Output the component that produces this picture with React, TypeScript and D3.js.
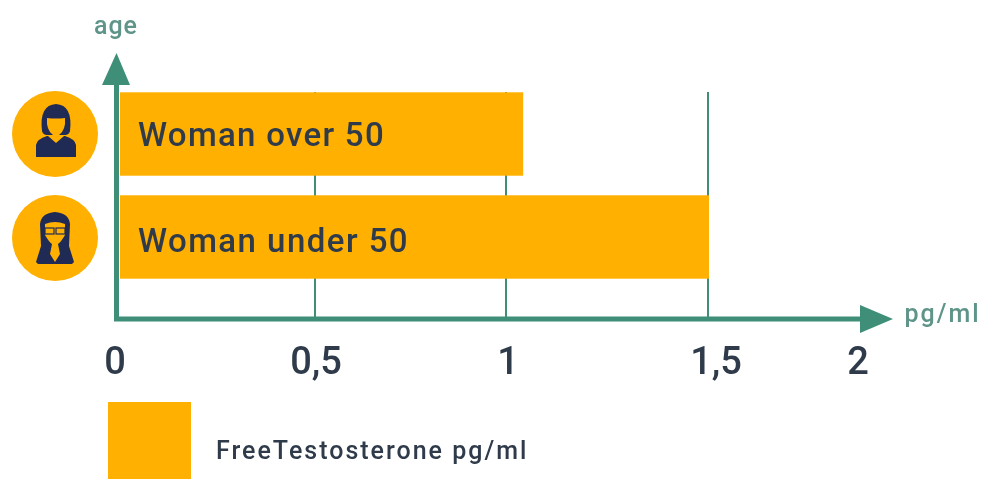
import React from "react";
import * as d3 from "d3";

const categories = ["Woman over 50", "Woman under 50"];
const values = [1.04, 1.5];
const tickValues = [0, 0.5, 1, 1.5, 2];
const tickLabels = ["0", "0,5", "1", "1,5", "2"];
const gridValues = [0.5, 1, 1.5];
const legendLabel = "FreeTestosterone pg/ml";

const GREEN = "#3f8f78";
const ORANGE = "#ffb000";
const NAVY = "#1f2a55";
const TEXT = "#2f3b4a";
const FONT = "Roboto, 'Noto Sans', sans-serif";

// the reference's ticks are not quite evenly spaced
const x = d3.scaleLinear().domain(tickValues).range([116, 315, 506, 708, 858]);
const y = d3.scaleBand().domain(categories).range([82, 289]).paddingInner(0.19).paddingOuter(0.1);
const labelX = d3.scaleLinear().domain(tickValues).range([115, 316, 508, 716, 858]);

function OlderIcon({ cx, cy }: { cx: number; cy: number }) {
  return (
    <g transform={`translate(${cx},${cy})`}>
      <path fill={NAVY} d="M-20,27 L-20,15 Q-19,9 -9,6 L9,6 Q19,9 20,15 L20,27 Z" />
      <path fill={ORANGE} d="M-8,6 L8,6 L0,13 Z" />
      <path fill={NAVY} d="M-14,1 Q-17,-25 0,-26 Q17,-25 14,1 Q13,5 9,5 L-9,5 Q-13,5 -14,1 Z" />
      <path fill={ORANGE} d="M-9,-12 Q0,-11 9,-12 Q10,0 3,5 L0,6 L-3,5 Q-10,0 -9,-12 Z" />
    </g>
  );
}

function YoungerIcon({ cx, cy }: { cx: number; cy: number }) {
  return (
    <g transform={`translate(${cx},${cy})`}>
      <path fill={NAVY} d="M-17,26 L-19,24 L-14,8 L-15,-14 Q-14,-25 0,-26 Q14,-25 15,-14 L14,8 L19,24 L17,26 Z" />
      <path fill={ORANGE} d="M-10,-14 Q0,-18 10,-14 L10,-3 Q6,4 3,6 L5,16 L0,24 L-5,16 L-3,6 Q-6,4 -10,-3 Z" />
      <g fill="none" stroke={NAVY} strokeWidth={1.2}>
        <rect x={-10} y={-10} width={9} height={6} />
        <rect x={1} y={-10} width={9} height={6} />
      </g>
    </g>
  );
}

export default function App() {
  const bandH = y.bandwidth();
  return (
    <svg
      width={983}
      height={479}
      viewBox="0 0 983 479"
      style={{ position: "absolute", left: 0, top: 0, background: "#fff", filter: "blur(0.4px)" }}
      fontFamily={FONT}
    >
      {gridValues.map((v) => (
        <line key={v} x1={x(v)} x2={x(v)} y1={92} y2={319} stroke={GREEN} strokeWidth={2} />
      ))}

      {categories.map((c, i) => (
        <g key={c}>
          <rect x={120} y={y(c)} width={x(values[i]) + 1 - 120} height={bandH} fill={ORANGE} />
          <text
            x={138}
            y={y(c)! + bandH / 2 + (i === 0 ? 12 : 15)}
            fontSize={33}
            fontWeight={500}
            letterSpacing={i === 0 ? 1.3 : 1.45}
            fill={TEXT}
          >
            {c}
          </text>
          <circle cx={55} cy={y(c)! + bandH / 2 + (i === 0 ? 0 : 1)} r={43} fill={ORANGE} />
          {i === 0 ? <OlderIcon cx={56} cy={130} /> : <YoungerIcon cx={55} cy={238} />}
        </g>
      ))}

      <line x1={116.5} x2={116.5} y1={321} y2={80} stroke={GREEN} strokeWidth={5} />
      <path d="M116.5,53 L130,85 L102,85 Z" fill={GREEN} />
      <line x1={114} x2={865} y1={319} y2={319} stroke={GREEN} strokeWidth={5} />
      <path d="M893,319 L860,305 L860,333 Z" fill={GREEN} />

      <text x={116} y={34} textAnchor="middle" fontSize={25} fontWeight={500} letterSpacing={1} fill="#5f9488">age</text>
      <text x={942.5} y={322} textAnchor="middle" fontSize={25} fontWeight={500} letterSpacing={2} fill="#5f9488">pg/ml</text>

      {tickValues.map((v, i) => (
        <text key={v} x={labelX(v)} y={374} textAnchor="middle" fontSize={38} fontWeight={500} fill={TEXT}>
          {tickLabels[i]}
        </text>
      ))}

      <rect x={108} y={402} width={83} height={77} fill={ORANGE} />
      <text x={216} y={459} fontSize={25} fontWeight={500} fill={TEXT} letterSpacing={2}>
        {legendLabel}
      </text>
    </svg>
  );
}
